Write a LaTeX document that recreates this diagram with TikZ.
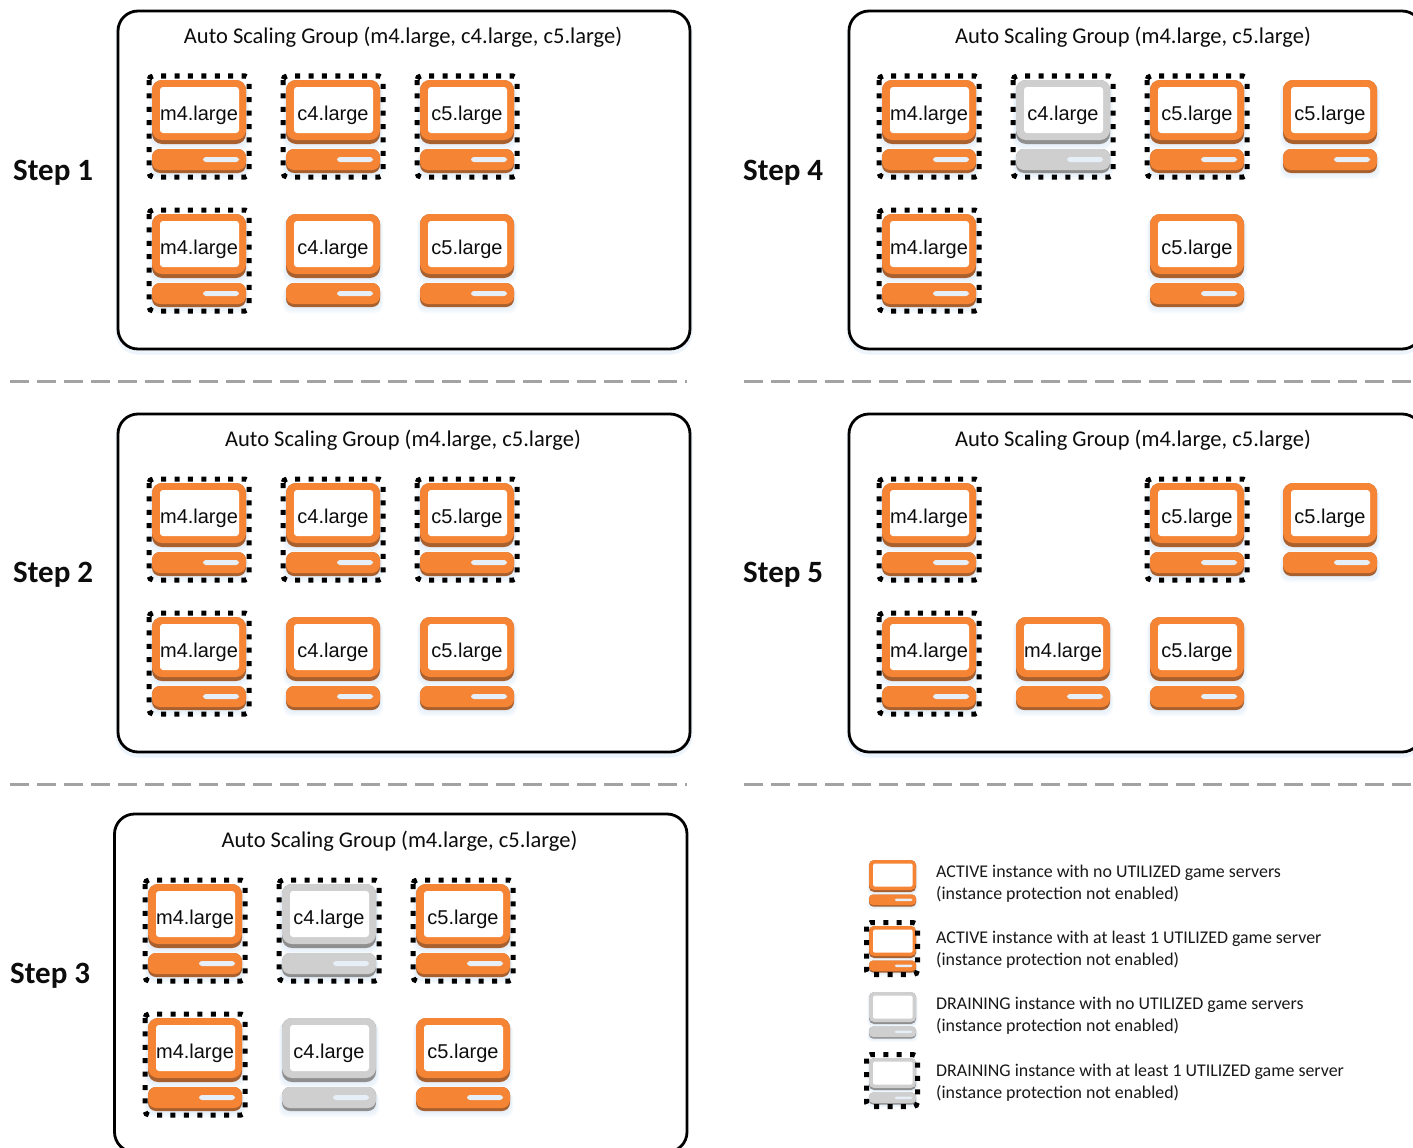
\documentclass[tikz,border=0pt]{standalone}
\usepackage{fontspec}
\setmainfont{Carlito}
\newfontfamily\lblfont{Liberation Sans}
\definecolor{orangemain}{HTML}{F58434}
\definecolor{orangedark}{HTML}{A9602F}
\definecolor{graymain}{HTML}{CFCFCF}
\definecolor{graydark}{HTML}{8F8F8F}
\definecolor{glow}{HTML}{C4DBF2}
\definecolor{barlight}{HTML}{E6EFF8}
\definecolor{dashgray}{HTML}{A3A3A3}
\tikzset{
  x=1pt,y=-1pt,
  panelglow/.style={draw=glow,opacity=.3,line width=5pt,rounded corners=20pt},
  panelbox/.style={draw=black,line width=2.8pt,rounded corners=20pt,fill=white},
  paneltitle/.style={font=\fontsize{22.5}{27}\selectfont,text=black!95,inner sep=0pt,anchor=center},
  steplabel/.style={font=\fontsize{31}{37}\selectfont\bfseries,text=black!95,inner sep=0pt,anchor=west},
  instlabel/.style={font=\lblfont\fontsize{20}{24}\selectfont,text=black!95,inner sep=0pt,anchor=center},
  legendtext/.style={font=\fontsize{17.9}{22}\selectfont,text=black!90,inner sep=0pt,anchor=west,align=left},
  separator/.style={draw=dashgray,line width=3pt,dash pattern=on 19pt off 8pt},
  dotframe/.style={draw=black,line width=5pt,dash pattern=on 5pt off 8.4pt,rounded corners=4pt},
}
% name, x, y, scale, label, colour family, dotted (0/1)
\newcommand{\inst}[7]{%
  \begin{scope}[shift={(#2,#3)},scale=#4]
    \pgfmathsetmacro{\rA}{10*#4}\pgfmathsetmacro{\rB}{3*#4}\pgfmathsetmacro{\rC}{8*#4}
    \pgfmathsetmacro{\fL}{-7+4*#4}\pgfmathsetmacro{\fT}{-9.2+5.2*#4}
    \foreach \g in {1,2,3}{%
      \fill[glow,opacity=.14,rounded corners=\rA pt] (-\g,\g) rectangle (94+\g,64+2*\g);
      \fill[glow,opacity=.14,rounded corners=\rC pt] (-\g,70+\g) rectangle (94+\g,93+2*\g);
    }
    \fill[#6dark,rounded corners=\rA pt] (0,0) rectangle (94,64);
    \fill[#6main,rounded corners=\rA pt] (0,0) rectangle (94,60);
    \fill[white,rounded corners=\rB pt] (8,7) rectangle (87,53);
    \fill[#6dark,rounded corners=\rC pt] (0,69) rectangle (94,93);
    \fill[#6main,rounded corners=\rC pt] (0,69) rectangle (94,90);
    \fill[barlight,rounded corners=\rB pt] (51,77) rectangle (87,82);
    \ifnum#7=1 \draw[dotframe] (\fL,\fT) rectangle (97,97);\fi
    \if\relax\detokenize{#5}\relax\else
      \node[instlabel] (#1) at (47,35.5) {#5};
    \fi
  \end{scope}}
\begin{document}
\begin{tikzpicture}
\useasboundingbox (0,0) rectangle (1413,1148);
\fill[white] (0,0) rectangle (1413,1148);
\clip (0,0) rectangle (1413,1148);

% panels
\draw[panelglow] (118,13) rectangle (690,352);
\draw[panelglow] (849,13) rectangle (1422,352);
\draw[panelglow] (118,416) rectangle (690,755);
\draw[panelglow] (849,416) rectangle (1422,755);
\draw[panelbox] (118,11) rectangle (690,349);
\draw[panelbox] (849,11) rectangle (1422,349);
\draw[panelbox] (118,414) rectangle (690,752);
\draw[panelbox] (849,414) rectangle (1422,752);
\draw[panelbox] (114.5,814) rectangle (687,1152);

% titles
\node[paneltitle] (t1) at (403,37.5) {Auto Scaling Group (m4.large, c4.large, c5.large)};
\node[paneltitle] (t2) at (403,440) {Auto Scaling Group (m4.large, c5.large)};
\node[paneltitle] (t3) at (399.5,841) {Auto Scaling Group (m4.large, c5.large)};
\node[paneltitle] (t4) at (1133,37.5) {Auto Scaling Group (m4.large, c5.large)};
\node[paneltitle] (t5) at (1133,440) {Auto Scaling Group (m4.large, c5.large)};

% step labels
\node[steplabel] (s1) at (13,173) {Step 1};
\node[steplabel] (s2) at (13,575) {Step 2};
\node[steplabel] (s3) at (10,976) {Step 3};
\node[steplabel] (s4) at (743,173) {Step 4};
\node[steplabel] (s5) at (743,575) {Step 5};

% separators
\coordinate (a1) at (10,381); \coordinate (a2) at (687,381);
\coordinate (b1) at (744,381); \coordinate (b2) at (1413,381);
\coordinate (c1) at (10,784); \coordinate (c2) at (687,784);
\coordinate (d1) at (744,784); \coordinate (d2) at (1413,784);
\draw[separator] (a1) -- (a2);
\draw[separator] (b1) -- (b2);
\draw[separator] (c1) -- (c2);
\draw[separator] (d1) -- (d2);

% Step 1
\inst{i11}{152}{80}{1}{m4.large}{orange}{1}
\inst{i12}{286}{80}{1}{c4.large}{orange}{1}
\inst{i13}{420}{80}{1}{c5.large}{orange}{1}
\inst{i14}{152}{214}{1}{m4.large}{orange}{1}
\inst{i15}{286}{214}{1}{c4.large}{orange}{0}
\inst{i16}{420}{214}{1}{c5.large}{orange}{0}
% Step 2
\inst{i21}{152}{483}{1}{m4.large}{orange}{1}
\inst{i22}{286}{483}{1}{c4.large}{orange}{1}
\inst{i23}{420}{483}{1}{c5.large}{orange}{1}
\inst{i24}{152}{617}{1}{m4.large}{orange}{1}
\inst{i25}{286}{617}{1}{c4.large}{orange}{0}
\inst{i26}{420}{617}{1}{c5.large}{orange}{0}
% Step 3
\inst{i31}{148}{884}{1}{m4.large}{orange}{1}
\inst{i32}{282}{884}{1}{c4.large}{gray}{1}
\inst{i33}{416}{884}{1}{c5.large}{orange}{1}
\inst{i34}{148}{1018}{1}{m4.large}{orange}{1}
\inst{i35}{282}{1018}{1}{c4.large}{gray}{0}
\inst{i36}{416}{1018}{1}{c5.large}{orange}{0}
% Step 4
\inst{i41}{882}{80}{1}{m4.large}{orange}{1}
\inst{i42}{1016}{80}{1}{c4.large}{gray}{1}
\inst{i43}{1150}{80}{1}{c5.large}{orange}{1}
\inst{i44}{1283}{80}{1}{c5.large}{orange}{0}
\inst{i45}{882}{214}{1}{m4.large}{orange}{1}
\inst{i46}{1150}{214}{1}{c5.large}{orange}{0}
% Step 5
\inst{i51}{882}{483}{1}{m4.large}{orange}{1}
\inst{i52}{1150}{483}{1}{c5.large}{orange}{1}
\inst{i53}{1283}{483}{1}{c5.large}{orange}{0}
\inst{i54}{882}{617}{1}{m4.large}{orange}{1}
\inst{i55}{1016}{617}{1}{m4.large}{orange}{0}
\inst{i56}{1150}{617}{1}{c5.large}{orange}{0}

% legend
\inst{l1}{869}{860}{0.5}{}{orange}{0}
\inst{l2}{869}{926}{0.5}{}{orange}{1}
\inst{l3}{869}{992}{0.5}{}{gray}{0}
\inst{l4}{869}{1058}{0.5}{}{gray}{1}
\node[legendtext] (lt1) at (936,883.5) {ACTIVE instance with no UTILIZED game servers\\(instance protection not enabled)};
\node[legendtext] (lt2) at (936,949.5) {ACTIVE instance with at least 1 UTILIZED game server\\(instance protection not enabled)};
\node[legendtext] (lt3) at (936,1015.5) {DRAINING instance with no UTILIZED game servers\\(instance protection not enabled)};
\node[legendtext] (lt4) at (936,1082.5) {DRAINING instance with at least 1 UTILIZED game server\\(instance protection not enabled)};
\end{tikzpicture}
\end{document}
